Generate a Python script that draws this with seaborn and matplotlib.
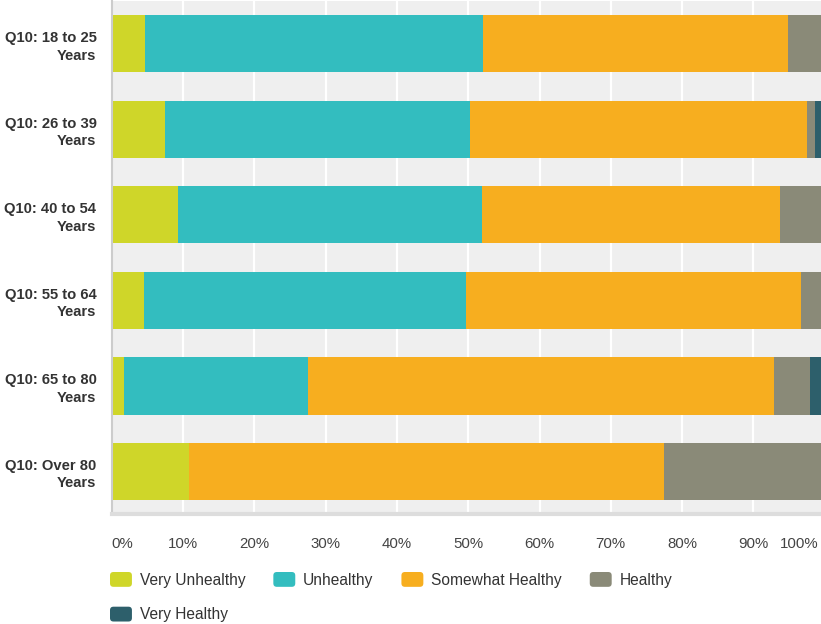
import matplotlib
matplotlib.use("Agg")
import matplotlib.pyplot as plt
from matplotlib.patches import Patch, FancyBboxPatch
from matplotlib.legend_handler import HandlerBase
from matplotlib.transforms import ScaledTranslation
import pandas as pd
import seaborn as sns

# Survey responses by age group (% of respondents)
groups = ["Q10: 18 to 25\nYears", "Q10: 26 to 39\nYears", "Q10: 40 to 54\nYears",
          "Q10: 55 to 64\nYears", "Q10: 65 to 80\nYears", "Q10: Over 80\nYears"]
series = ["Very Unhealthy", "Unhealthy", "Somewhat Healthy", "Healthy", "Very Healthy"]
very_unhealthy = [4.7, 7.5, 9.3, 4.5, 1.7, 10.9]
unhealthy = [47.4, 42.8, 42.6, 45.2, 25.8, 0.0]
somewhat_healthy = [42.8, 47.2, 41.8, 47.0, 65.4, 66.6]
healthy = [5.1, 1.2, 6.3, 3.3, 5.0, 22.5]
very_healthy = [0.0, 1.3, 0.0, 0.0, 2.1, 0.0]
x_ticks = [0, 10, 20, 30, 40, 50, 60, 70, 80, 90, 100]
x_tick_labels = ["0%", "10%", "20%", "30%", "40%", "50%", "60%", "70%", "80%", "90%", "100%"]

colors = ["#CFD629", "#33BDBF", "#F7AE1F", "#8A8A78", "#2D5F6B"]

sns.set_theme(style="white")
plt.rcParams["font.family"] = ["Liberation Sans", "DejaVu Sans"]

df = pd.DataFrame({
    "group": groups,
    series[0]: very_unhealthy,
    series[1]: unhealthy,
    series[2]: somewhat_healthy,
    series[3]: healthy,
    series[4]: very_healthy,
})
cum = df[series].cumsum(axis=1)

fig = plt.figure(figsize=(8.21, 6.24), dpi=100)
W, H = 821, 624
x0, x100 = 111.7, 824.7
ytop, ybot = 1.0, 514.3
ax = fig.add_axes([x0 / W, (H - ybot) / H, (x100 - x0) / W, (ybot - ytop) / H])
ax.set_facecolor("#EFEFEF")

for xv in x_ticks[1:]:
    ax.axvline(xv, color="white", lw=1.6, zorder=0)

# stacked bars: draw cumulative totals from the outermost segment inward
for name, col in reversed(list(zip(series, colors))):
    sns.barplot(x=cum[name], y=df["group"], orient="h", color=col,
                width=0.667, saturation=1, ax=ax, zorder=2, linewidth=0)

ax.set_xlim(0, 100)
ax.set_ylim(5.5, -0.5)
ax.set_xlabel("")
ax.set_ylabel("")
for s in ["top", "right"]:
    ax.spines[s].set_visible(False)
ax.spines["left"].set_color("#CCCCCC")
ax.spines["left"].set_linewidth(1.5)
ax.spines["bottom"].set_color("#DDDDDD")
ax.spines["bottom"].set_linewidth(3)

ax.set_xticks(x_ticks)
ax.set_xticklabels(x_tick_labels, fontsize=10.8, color="#444444")
ax.tick_params(axis="x", length=0, pad=16)
labs = ax.get_xticklabels()
labs[0].set_horizontalalignment("left")
labs[-1].set_horizontalalignment("right")
# keep the last label inside the figure edge
labs[-1].set_transform(labs[-1].get_transform()
                       + ScaledTranslation(-0.06, 0, fig.dpi_scale_trans))
ax.tick_params(axis="y", length=0, pad=11)
for t in ax.get_yticklabels():
    t.set_fontweight("bold")
    t.set_fontsize(10.6)
    t.set_color("#333333")
    t.set_horizontalalignment("right")
    t.set_multialignment("right")
    t.set_linespacing(1.3)


class RoundSquare(HandlerBase):
    def create_artists(self, legend, orig_handle, xdescent, ydescent,
                       width, height, fontsize, trans):
        p = FancyBboxPatch((-xdescent, -ydescent), width, height,
                           boxstyle="round,pad=0,rounding_size=2.5",
                           facecolor=orig_handle.get_facecolor(),
                           edgecolor="none", transform=trans)
        return [p]


handles = [Patch(facecolor=c) for c in colors]
# legend fills column by column; order items so they read across rows
order = [0, 4, 1, 2, 3]
fig.legend([handles[i] for i in order], [series[i] for i in order],
           handler_map={Patch: RoundSquare()},
           loc="upper left", bbox_to_anchor=(96 / W, 1 - 558 / H),
           ncol=4, frameon=False, fontsize=11.2, handletextpad=0.5,
           columnspacing=1.8, labelspacing=1.22, handlelength=1.41,
           handleheight=1.09, labelcolor="#333333")

fig.savefig("out.png", dpi=100)
